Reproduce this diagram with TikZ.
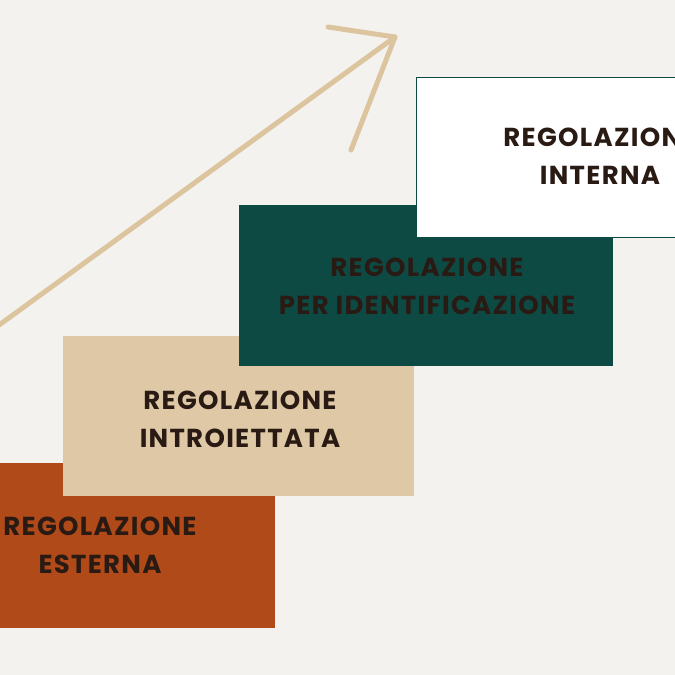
\documentclass[tikz,border=0pt]{standalone}
\usepackage{fontspec}
\setmainfont{Poppins}[LetterSpace=5]
\begin{document}
\begin{tikzpicture}[x=1pt,y=-1pt,
  lbl/.style={font=\bfseries\fontsize{26}{38}\selectfont,text=txt,align=center}]
\definecolor{bg}{HTML}{F3F2EE}
\definecolor{txt}{HTML}{2A1A14}
\definecolor{rust}{HTML}{B04A18}
\definecolor{sand}{HTML}{DFC8A6}
\definecolor{teal}{HTML}{0E4A44}
\definecolor{arr}{HTML}{DCC49F}
\useasboundingbox (0,0) rectangle (675,675);
\clip (0,0) rectangle (675,675);
\fill[bg] (0,0) rectangle (675,675);
\fill[rust] (-2,463) rectangle (275,628);
\fill[sand] (63,336) rectangle (414,496);
\fill[teal] (239,205) rectangle (613,366);
\filldraw[fill=white,draw=teal,line width=1pt] (416,77) rectangle (690,237);
\node[lbl] (t1) at (100,545) {REGOLAZIONE\\ESTERNA};
\node[lbl] (t2) at (240,419) {REGOLAZIONE\\INTROIETTATA};
\node[lbl] (t3) at (427,286) {REGOLAZIONE\\PER IDENTIFICAZIONE};
\node[lbl] (t4) at (600,156) {REGOLAZIONE\\INTERNA};
\coordinate (s) at (-5,328);
\coordinate (tip) at (395,37);
\draw[arr,line width=5pt,line cap=round,line join=round] (s) -- (tip);
\draw[arr,line width=5pt,line cap=round,line join=round] (328,27) -- (tip) -- (351,150);
\end{tikzpicture}
\end{document}
